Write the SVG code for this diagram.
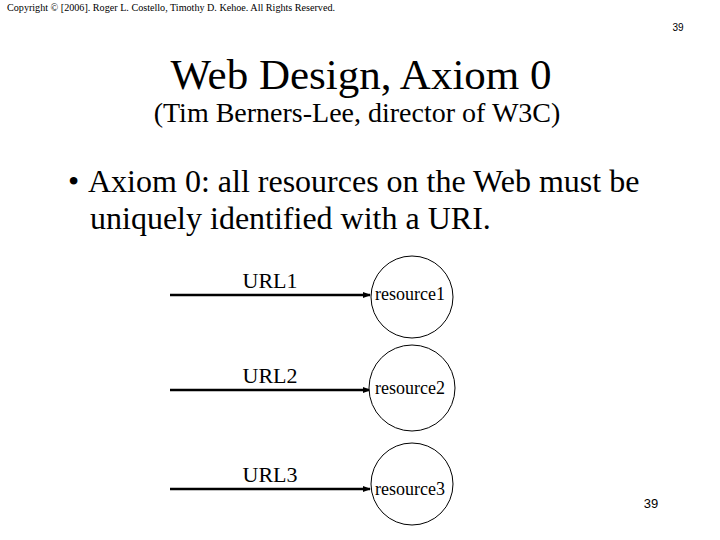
<svg xmlns="http://www.w3.org/2000/svg" width="720" height="540" viewBox="0 0 720 540">
<style>
.serif{font-family:"Liberation Serif","Times New Roman",serif;fill:#000}
.sans{font-family:"Liberation Sans",Arial,sans-serif;fill:#000}
.node circle{fill:#fff;stroke:#000;stroke-width:1}
.conn line{stroke:#000;stroke-width:2.5}
</style>
<defs>
<marker id="arr" markerWidth="8" markerHeight="8" refX="7" refY="4" orient="auto" markerUnits="userSpaceOnUse">
<path d="M0,1 L8,4 L0,7 Z" fill="#000"/>
</marker>
</defs>
<rect width="720" height="540" fill="#fff"/>
<text class="serif" x="7" y="11" font-size="10" textLength="328" lengthAdjust="spacingAndGlyphs">Copyright © [2006].  Roger L. Costello, Timothy D. Kehoe.  All Rights Reserved.</text>
<text class="sans" x="678" y="31" font-size="10" text-anchor="middle">39</text>
<text class="serif" x="361" y="89" font-size="43" text-anchor="middle">Web Design, Axiom 0</text>
<text class="serif" x="357" y="122" font-size="28" text-anchor="middle">(Tim Berners-Lee, director of W3C)</text>
<text class="serif" x="68" y="192" font-size="32">•</text>
<text class="serif" x="88" y="192" font-size="32">Axiom 0: all resources on the Web must be</text>
<text class="serif" x="90" y="229" font-size="32">uniquely identified with a URI.</text>
<g id="connectors" class="conn">
<line x1="170" y1="295" x2="370" y2="295" marker-end="url(#arr)"/>
<line x1="170" y1="390" x2="370" y2="390" marker-end="url(#arr)"/>
<line x1="170" y1="489" x2="370" y2="489" marker-end="url(#arr)"/>
</g>
<g id="label-url1"><text class="serif" x="270" y="288" font-size="22" text-anchor="middle">URL1</text></g>
<g id="label-url2"><text class="serif" x="270" y="383" font-size="22" text-anchor="middle">URL2</text></g>
<g id="label-url3"><text class="serif" x="270" y="482" font-size="22" text-anchor="middle">URL3</text></g>
<g id="resource1" class="node"><circle cx="412" cy="297" r="41"/><text class="serif" x="410" y="300" font-size="18" text-anchor="middle">resource1</text></g>
<g id="resource2" class="node"><circle cx="412" cy="388" r="43"/><text class="serif" x="410" y="394" font-size="18" text-anchor="middle">resource2</text></g>
<g id="resource3" class="node"><circle cx="412" cy="484" r="41"/><text class="serif" x="410" y="495" font-size="18" text-anchor="middle">resource3</text></g>
<text class="sans" x="651" y="508" font-size="13" text-anchor="middle">39</text>
</svg>
